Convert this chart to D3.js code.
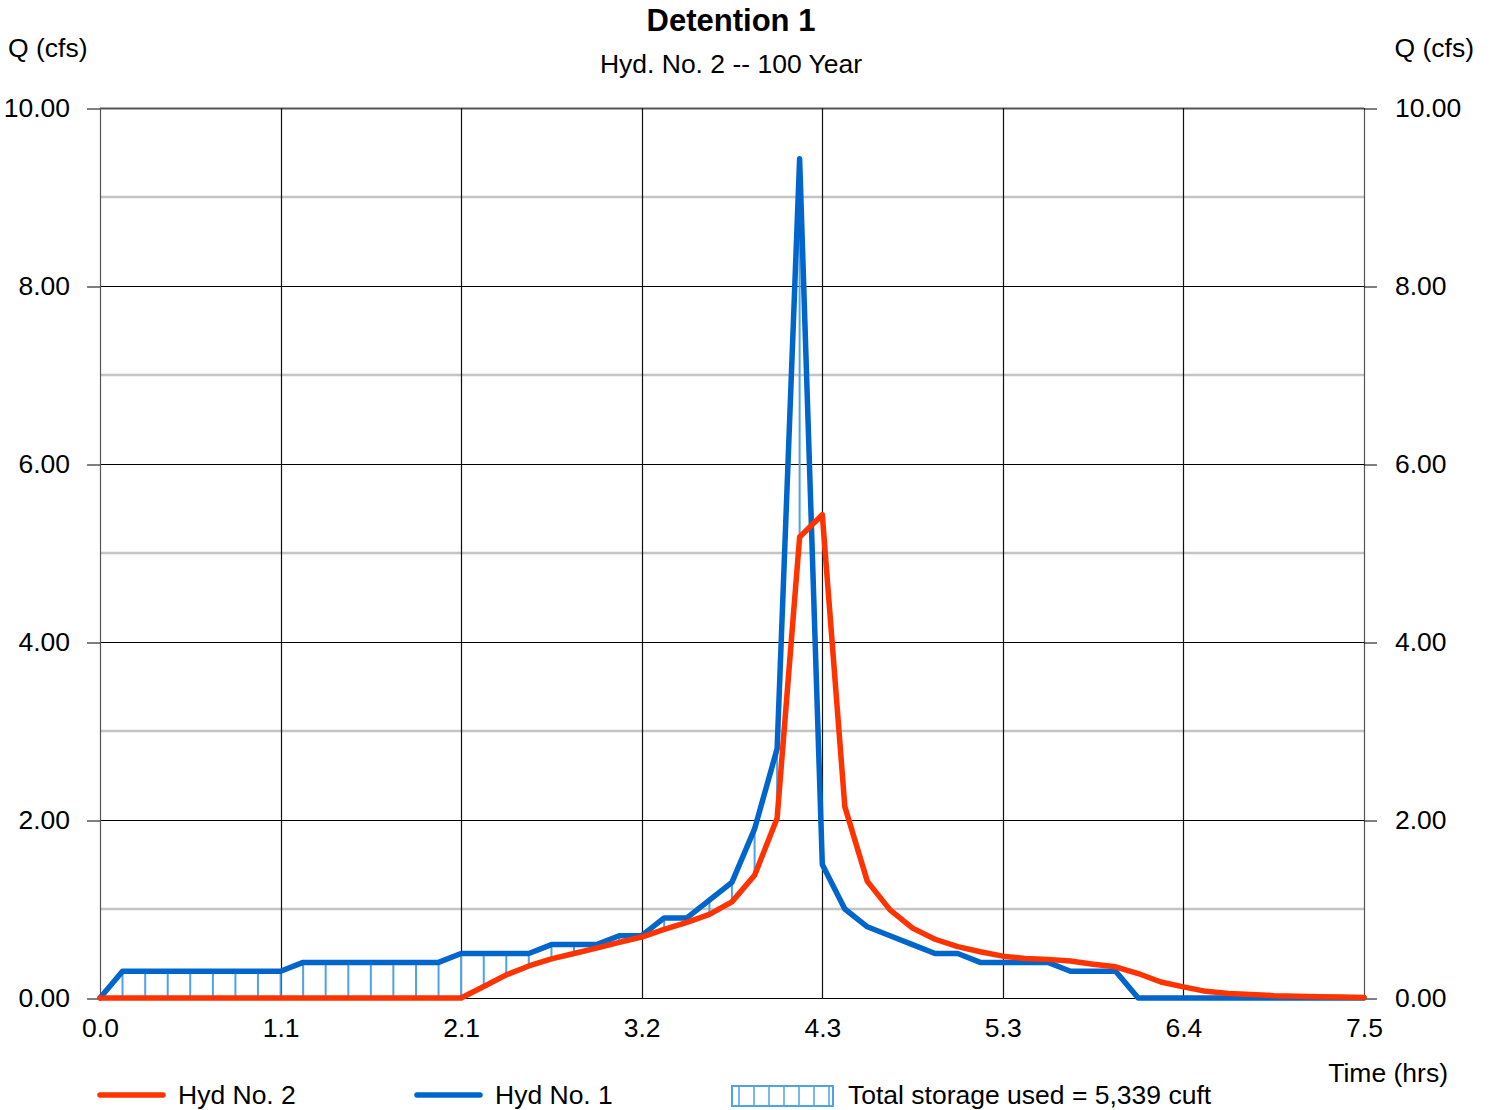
<!doctype html>
<html>
<head>
    <meta charset="UTF-8">
    <title>Detention 1</title>
    <script src="https://d3js.org/d3.v7.min.js"></script>
    <style>
        body { margin: 0; background: #fff; }
        text { font-family: "Liberation Sans", Arial, sans-serif; fill: #000; }
    </style>
</head>
<body>
<script>
    // time in hrs (8 min step)
    var times = [0, 0.133, 0.267, 0.400, 0.533, 0.667, 0.800, 0.933, 1.067, 1.200,
        1.333, 1.467, 1.600, 1.733, 1.867, 2.000, 2.133, 2.267, 2.400, 2.533,
        2.667, 2.800, 2.933, 3.067, 3.200, 3.333, 3.467, 3.600, 3.733, 3.867,
        4.000, 4.133, 4.267, 4.400, 4.533, 4.667, 4.800, 4.933, 5.067, 5.200,
        5.333, 5.467, 5.600, 5.733, 5.867, 6.000, 6.133, 6.267, 6.400, 6.533,
        6.667, 6.800, 6.933, 7.067, 7.200, 7.333, 7.467];
    // Hyd No. 1 (inflow)
    var hyd1 = [0, 0.3, 0.3, 0.3, 0.3, 0.3, 0.3, 0.3, 0.3, 0.4,
        0.4, 0.4, 0.4, 0.4, 0.4, 0.4, 0.5, 0.5, 0.5, 0.5,
        0.6, 0.6, 0.6, 0.7, 0.7, 0.9, 0.9, 1.1, 1.3, 1.9,
        2.8, 9.43, 1.5, 1.0, 0.8, 0.7, 0.6, 0.5, 0.5, 0.4,
        0.4, 0.4, 0.4, 0.3, 0.3, 0.3, 0, 0, 0, 0,
        0, 0, 0, 0, 0, 0, 0];
    // Hyd No. 2 (outflow)
    var hyd2 = [0, 0, 0, 0, 0, 0, 0, 0, 0, 0,
        0, 0, 0, 0, 0, 0, 0, 0.13, 0.26, 0.36,
        0.44, 0.50, 0.56, 0.625, 0.685, 0.77, 0.85, 0.94, 1.08, 1.38,
        2.02, 5.18, 5.43, 2.15, 1.31, 0.99, 0.785, 0.66, 0.577, 0.52,
        0.47, 0.445, 0.434, 0.415, 0.38, 0.35, 0.275, 0.18, 0.125, 0.075,
        0.05, 0.038, 0.026, 0.02, 0.015, 0.01, 0.005];

    var xTickValues = [0, 1.067, 2.133, 3.2, 4.267, 5.333, 6.4, 7.467];
    var xTickLabels = ["0.0", "1.1", "2.1", "3.2", "4.3", "5.3", "6.4", "7.5"];
    var yMajor = [0, 2, 4, 6, 8, 10];
    var yMinor = [1, 3, 5, 7, 9];
    var legendNames = ["Hyd No. 2", "Hyd No. 1"];
    var storageText = "Total storage used = 5,339 cuft";

    var w = 1491, h = 1110;
    var pL = 100, pR = 1364, pT = 108, pB = 998;
    var red = "#ff3300", blue = "#0066cc", hatch = "#4da3e6";
    var fs = 26.5;

    var svg = d3.select("body").append("svg")
        .attr("width", w).attr("height", h);

    var x = d3.scaleLinear().domain([0, 7.467]).range([pL, pR]);
    var y = d3.scaleLinear().domain([0, 10]).range([pB, pT]);

    // minor grid
    svg.append("g").selectAll("line").data(yMinor).enter().append("line")
        .attr("x1", pL).attr("x2", pR)
        .attr("y1", function(d){ return y(d); })
        .attr("y2", function(d){ return y(d); })
        .attr("stroke", "#c4c4c4").attr("stroke-width", 2.5);

    // major horizontal grid
    svg.append("g").selectAll("line").data(yMajor).enter().append("line")
        .attr("x1", pL).attr("x2", pR)
        .attr("y1", function(d){ return y(d) + 0.5; })
        .attr("y2", function(d){ return y(d) + 0.5; })
        .attr("stroke", function(d){ return d == 10 ? "#555" : "#000"; })
        .attr("stroke-width", function(d){ return d == 10 ? 2 : 1.2; });

    // vertical grid
    svg.append("g").selectAll("line").data(xTickValues).enter().append("line")
        .attr("x1", function(d){ return Math.round(x(d)) + 0.5; })
        .attr("x2", function(d){ return Math.round(x(d)) + 0.5; })
        .attr("y1", pT).attr("y2", pB)
        .attr("stroke", function(d, i){ return (i == 0 || i == 7) ? "#555" : "#111"; })
        .attr("stroke-width", 1.2);

    // axes (ticks + labels)
    var fmt = d3.format(".2f");
    var yLeft = d3.axisLeft(y).tickValues(yMajor).tickFormat(fmt).tickSize(13).tickPadding(17);
    var yRight = d3.axisRight(y).tickValues(yMajor).tickFormat(fmt).tickSize(13).tickPadding(18);
    var xAxis = d3.axisBottom(x).tickValues(xTickValues)
        .tickFormat(function(d, i){ return xTickLabels[i]; }).tickSize(0).tickPadding(20);

    function styleAxis(g) {
        g.select(".domain").remove();
        g.selectAll("line").attr("stroke", "#000").attr("stroke-width", 1);
        g.selectAll("text").attr("font-size", fs)
            .attr("font-family", "Liberation Sans, Arial, sans-serif").attr("fill", "#000");
    }
    svg.append("g").attr("transform", "translate(" + pL + ",0.5)").call(yLeft).call(styleAxis);
    svg.append("g").attr("transform", "translate(" + pR + ",0.5)").call(yRight).call(styleAxis);
    svg.append("g").attr("transform", "translate(0," + pB + ")").call(xAxis).call(styleAxis);

    // storage hatch
    var idx = d3.range(times.length).filter(function(i){ return hyd1[i] > hyd2[i]; });
    svg.append("g").selectAll("line").data(idx).enter().append("line")
        .attr("x1", function(i){ return x(times[i]); })
        .attr("x2", function(i){ return x(times[i]); })
        .attr("y1", function(i){ return y(hyd2[i]); })
        .attr("y2", function(i){ return y(hyd1[i]); })
        .attr("stroke", hatch).attr("stroke-width", 2);

    var line = d3.line()
        .x(function(d){ return x(d[0]); })
        .y(function(d){ return y(d[1]); });

    svg.append("path").datum(d3.zip(times, hyd1))
        .attr("d", line).attr("fill", "none")
        .attr("stroke", blue).attr("stroke-width", 5.5)
        .attr("stroke-linejoin", "round").attr("stroke-linecap", "round");
    svg.append("path").datum(d3.zip(times, hyd2))
        .attr("d", line).attr("fill", "none")
        .attr("stroke", red).attr("stroke-width", 5.5)
        .attr("stroke-linejoin", "round").attr("stroke-linecap", "round");

    // titles
    svg.append("text").attr("x", 731).attr("y", 31).attr("text-anchor", "middle")
        .attr("font-size", 31).attr("font-weight", "bold").text("Detention 1");
    svg.append("text").attr("x", 731).attr("y", 73).attr("text-anchor", "middle")
        .attr("font-size", fs).text("Hyd. No. 2 -- 100 Year");
    svg.append("text").attr("x", 8).attr("y", 57).attr("font-size", fs).text("Q (cfs)");
    svg.append("text").attr("x", 1474).attr("y", 57).attr("text-anchor", "end")
        .attr("font-size", fs).text("Q (cfs)");
    svg.append("text").attr("x", 1448).attr("y", 1082).attr("text-anchor", "end")
        .attr("font-size", fs).text("Time (hrs)");

    // legend
    var leg = svg.append("g");
    var legX = [98, 415];
    var legC = [red, blue];
    legendNames.forEach(function(n, i){
        leg.append("line").attr("x1", legX[i] + 2).attr("x2", legX[i] + 65)
            .attr("y1", 1095).attr("y2", 1095)
            .attr("stroke", legC[i]).attr("stroke-width", 5.5).attr("stroke-linecap", "round");
        leg.append("text").attr("x", legX[i] + 80).attr("y", 1104)
            .attr("font-size", fs).text(n);
    });
    leg.append("rect").attr("x", 732).attr("y", 1086).attr("width", 101).attr("height", 20)
        .attr("fill", "none").attr("stroke", hatch).attr("stroke-width", 2);
    leg.selectAll(".hl").data([739, 754, 769, 784, 799, 814, 829]).enter().append("line")
        .attr("x1", function(d){ return d; }).attr("x2", function(d){ return d; })
        .attr("y1", 1086).attr("y2", 1106)
        .attr("stroke", hatch).attr("stroke-width", 1.5);
    leg.append("text").attr("x", 848).attr("y", 1104).attr("font-size", fs).text(storageText);
</script>
</body>
</html>
